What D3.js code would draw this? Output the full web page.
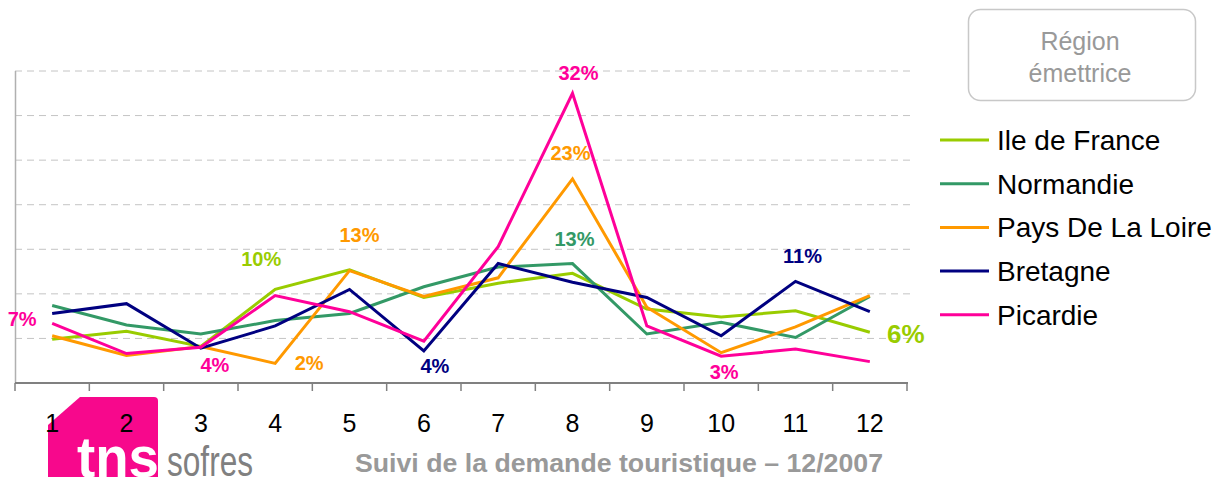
<!DOCTYPE html>
<html>
<head>
<meta charset="utf-8">
<script src="https://cdn.jsdelivr.net/npm/d3@7"></script>
<style>
  body { margin: 0; background: #fff; }
  svg { display: block; font-family: Arial, "Liberation Sans", sans-serif; }
</style>
</head>
<body>
<div id="chart"></div>
<script>
// months 1..12
const months = [1, 2, 3, 4, 5, 6, 7, 8, 9, 10, 11, 12];
const seriesNames = ["Ile de France", "Normandie", "Pays De La Loire", "Bretagne", "Picardie"];
const seriesColors = ["#99cc00", "#339966", "#ff9900", "#000080", "#ff0099"];

// values in %
const ileDeFrance = [4.9, 5.8, 4.1, 10.5, 12.7, 9.6, 11.2, 12.3, 8.3, 7.4, 8.1, 5.7];
const normandie   = [8.7, 6.5, 5.5, 7.0, 7.8, 10.8, 13.0, 13.4, 5.5, 6.8, 5.1, 9.7];
const paysDeLoire = [5.3, 3.1, 4.1, 2.2, 12.6, 9.7, 11.8, 22.9, 8.5, 3.4, 6.3, 9.8];
const bretagne    = [7.8, 8.9, 3.9, 6.4, 10.5, 3.6, 13.4, 11.3, 9.6, 5.3, 11.4, 8.0];
const picardie    = [6.7, 3.3, 4.0, 9.8, 8.0, 4.7, 15.3, 32.5, 6.4, 3.0, 3.8, 2.4];
const seriesValues = [ileDeFrance, normandie, paysDeLoire, bretagne, picardie];

const gridTicks = [5, 10, 15, 20, 25, 30, 35];

// annotated points: series index, month, text
const labelSeries = [4, 4, 0, 2, 2, 3, 4, 2, 1, 4, 3, 0];
const labelMonths = [1, 3, 4, 4, 5, 6, 8, 8, 8, 10, 11, 12];
const labelTexts  = ["7%", "4%", "10%", "2%", "13%", "4%", "32%", "23%", "13%", "3%", "11%", "6%"];
// label placement relative to the point (dx, dy) and font size
const labelDx = [-30, 14, -14, 34, 10, 11, 6, -2, 2, 3, 7, 36];
const labelDy = [3, 25, -23, 7, -29, 22, -13, -19, -18, 23, -18, 11];
const labelSize = [20, 20, 20, 20, 20, 20, 20, 20, 20, 20, 20, 26];

const w = 1218;
const h = 477;

const svg = d3.select("#chart")
  .append("svg")
  .attr("width", w)
  .attr("height", h);

const x = d3.scaleBand()
  .domain(months)
  .range([15, 907]);

const y = d3.scaleLinear()
  .domain([0, 35])
  .range([383, 71]);

const cx = (m) => x(m) + x.bandwidth() / 2;

// dashed gridlines
svg.selectAll(".grid")
  .data(gridTicks)
  .enter()
  .append("line")
  .attr("class", "grid")
  .attr("x1", 15)
  .attr("x2", 910)
  .attr("y1", (d) => y(d))
  .attr("y2", (d) => y(d))
  .style("stroke", "#c4c4c4")
  .style("stroke-width", 1)
  .style("stroke-dasharray", "7,5");

// left axis line
svg.append("line")
  .attr("x1", 15.5).attr("x2", 15.5)
  .attr("y1", y(35)).attr("y2", y(0))
  .style("stroke", "#b0b0b0")
  .style("stroke-width", 1.5);

// logo (under the tick labels)
const logo = svg.append("g");
logo.append("path")
  .attr("d", "M48,425 L80,397 L154,397 Q158,397 158,401 L158,477 L48,477 Z")
  .style("fill", "#f7088c");
logo.append("text")
  .attr("x", 77)
  .attr("y", 477)
  .attr("textLength", 82)
  .attr("lengthAdjust", "spacingAndGlyphs")
  .attr("font-size", "58px")
  .attr("font-weight", "bold")
  .attr("fill", "#fff")
  .text("tns");
logo.append("text")
  .attr("x", 167)
  .attr("y", 476)
  .attr("textLength", 86)
  .attr("lengthAdjust", "spacingAndGlyphs")
  .attr("font-size", "42px")
  .attr("fill", "#808080")
  .text("sofres");

// bottom axis with ticks on band edges
const xAxis = d3.axisBottom(x)
  .tickSize(0)
  .tickPadding(31);
const gx = svg.append("g")
  .attr("transform", `translate(0,${y(0)})`)
  .call(xAxis);
gx.select(".domain")
  .attr("d", `M15,0H908`)
  .style("stroke", "#808080")
  .style("stroke-width", 2);
gx.selectAll(".tick text")
  .attr("font-size", "25px")
  .attr("font-family", "Arial, 'Liberation Sans', sans-serif")
  .attr("fill", "#000");
gx.selectAll(".edge")
  .data(months.map((m) => x(m)).concat([x(12) + x.bandwidth()]))
  .enter()
  .append("line")
  .attr("class", "edge")
  .attr("x1", (d) => d).attr("x2", (d) => d)
  .attr("y1", 0).attr("y2", 8)
  .style("stroke", "#808080")
  .style("stroke-width", 1.5);

// series lines
const line = d3.line()
  .x((d, i) => cx(months[i]))
  .y((d) => y(d));

svg.selectAll(".series")
  .data(seriesValues)
  .enter()
  .append("path")
  .attr("class", "series")
  .attr("d", (d) => line(d))
  .style("fill", "none")
  .style("stroke", (d, i) => seriesColors[i])
  .style("stroke-width", 3)
  .style("stroke-linejoin", "miter");

// value labels
svg.selectAll(".vlabel")
  .data(labelTexts)
  .enter()
  .append("text")
  .attr("class", "vlabel")
  .attr("text-anchor", "middle")
  .attr("x", (d, i) => cx(labelMonths[i]) + labelDx[i])
  .attr("y", (d, i) => y(seriesValues[labelSeries[i]][labelMonths[i] - 1]) + labelDy[i])
  .attr("font-size", (d, i) => labelSize[i] + "px")
  .attr("font-weight", "bold")
  .attr("fill", (d, i) => seriesColors[labelSeries[i]])
  .text((d) => d);

// legend title box
svg.append("rect")
  .attr("x", 968.5).attr("y", 9.5)
  .attr("width", 227).attr("height", 91)
  .attr("rx", 12)
  .style("fill", "#fff")
  .style("stroke", "#c8c8c8")
  .style("stroke-width", 1.5);
svg.selectAll(".ltitle")
  .data(["Région", "émettrice"])
  .enter()
  .append("text")
  .attr("class", "ltitle")
  .attr("text-anchor", "middle")
  .attr("x", 1080)
  .attr("y", (d, i) => 50 + i * 32)
  .attr("font-size", "25px")
  .attr("fill", "#999")
  .text((d) => d);

// legend entries
const legend = svg.selectAll(".legend")
  .data(seriesNames)
  .enter()
  .append("g")
  .attr("class", "legend")
  .attr("transform", (d, i) => `translate(0,${140 + i * 43.7})`);
legend.append("line")
  .attr("x1", 940).attr("x2", 989)
  .attr("y1", 0).attr("y2", 0)
  .style("stroke", (d, i) => seriesColors[i])
  .style("stroke-width", 3);
legend.append("text")
  .attr("x", 997)
  .attr("y", 10)
  .attr("font-size", "28px")
  .attr("fill", "#000")
  .text((d) => d);

// footer
svg.append("text")
  .attr("x", 355)
  .attr("y", 472)
  .attr("textLength", 528)
  .attr("lengthAdjust", "spacingAndGlyphs")
  .attr("font-size", "25px")
  .attr("font-weight", "bold")
  .attr("fill", "#999")
  .text("Suivi de la demande touristique  – 12/2007");
</script>
</body>
</html>
